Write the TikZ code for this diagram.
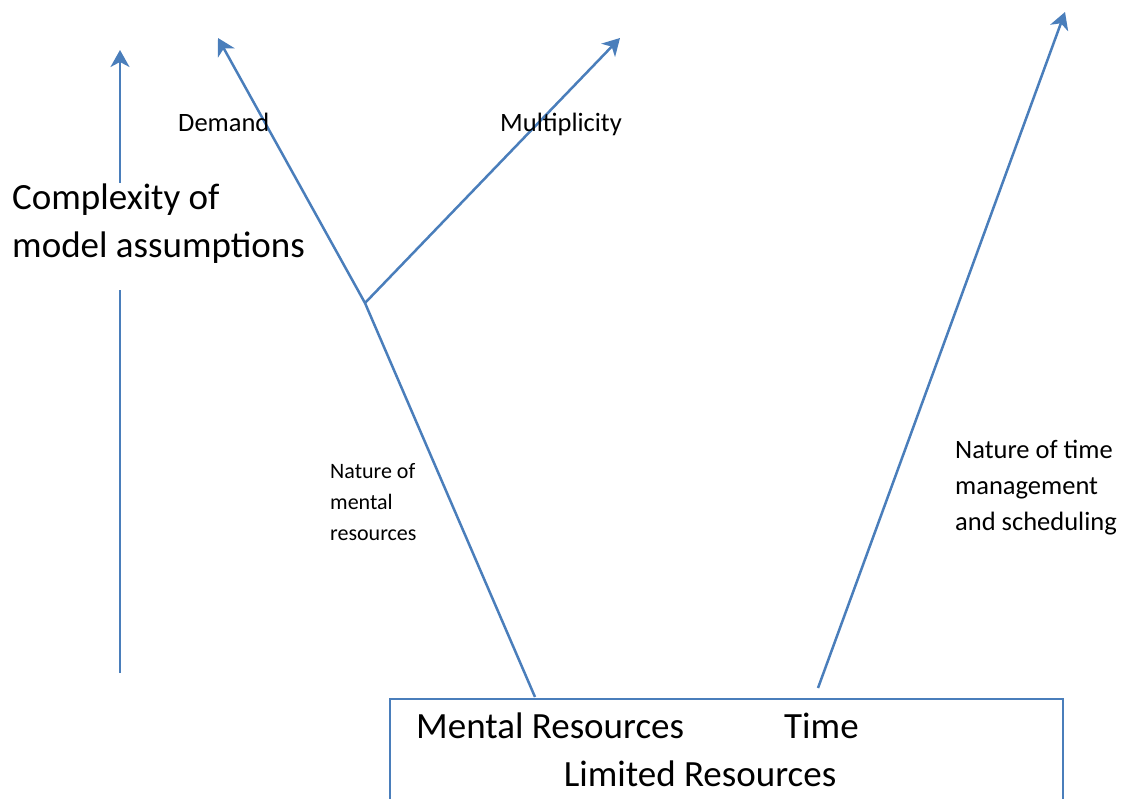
\documentclass[tikz,border=0pt]{standalone}
\usepackage{fontspec}
\setmainfont{Carlito}
\usetikzlibrary{arrows.meta}
\definecolor{lineblue}{HTML}{4A7EBB}
\tikzset{
  conn/.style={draw=lineblue, line width=2.5pt},
  arr/.style={conn, -{Stealth[length=17pt,width=19pt,inset=5pt]}},
  bigtxt/.style={font=\fontsize{37}{48}\selectfont, inner sep=0pt, align=left},
  smalltxt/.style={font=\fontsize{26.5}{36}\selectfont, inner sep=0pt, align=left},
  tinytxt/.style={font=\fontsize{22}{31}\selectfont, inner sep=0pt, align=left},
}
\begin{document}
\begin{tikzpicture}[x=1pt,y=-1pt]
\useasboundingbox (0,0) rectangle (1132,799);
% box
\node[draw=lineblue, line width=2.2pt, minimum width=673pt, minimum height=120pt, anchor=north west, inner sep=0pt] (box) at (389,698) {};
\node[bigtxt, anchor=base west] (mental) at (416,738) {Mental Resources};
\node[bigtxt, anchor=base west] (time) at (784,738) {Time};
\node[bigtxt, anchor=base] (limited) at (700,786) {Limited Resources};
% left axis
\node[bigtxt, anchor=base west] (cx1) at (12,210) {Complexity of};
\node[bigtxt, anchor=base west] (cx2) at (12,258) {model assumptions};
\coordinate (axbot) at (120,673);
\coordinate (axmid) at (120,290);
\coordinate (axtop0) at (120,183);
\coordinate (axtop) at (120,50);
\draw[conn] (axbot) -- (axmid);
\draw[arr] (axtop0) -- (axtop);
% mental resources branch
\coordinate (mstart) at (535,697);
\coordinate (branch) at (365,303);
\coordinate (demtip) at (218,38);
\coordinate (multip) at (620,38);
\draw[arr] (mstart) -- (branch) -- (demtip);
\draw[arr] (branch) -- (multip);
% time branch
\coordinate (tstart) at (818,688);
\coordinate (ttip) at (1065,12);
\draw[arr] (tstart) -- (ttip);
% labels
\node[smalltxt, anchor=base west] (demand) at (178,132) {Demand};
\node[smalltxt, anchor=base west] (multi) at (500,132) {Multiplicity};
\node[tinytxt, anchor=base west] (natm) at (330,540) {Nature of\\mental\\resources};
\node[smalltxt, anchor=base west] (natt) at (955,530) {Nature of time\\management\\and scheduling};
\end{tikzpicture}
\end{document}
